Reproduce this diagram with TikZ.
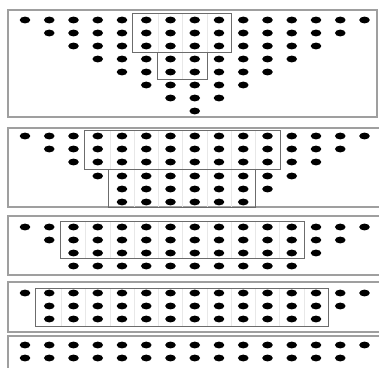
\documentclass[tikz,border=0pt]{standalone}
\usetikzlibrary{calc}

\tikzset{
  panel/.style={draw=gray!75, line width=1.5pt},
  block/.style={draw=gray!85!black, line width=0.9pt},
  stripe/.style={draw=gray!18, line width=0.7pt},
}

% one row of dots: y, first column, last column
\newcommand{\dotrow}[3]{%
  \foreach \i in {#2,...,#3}
    \fill (25+24.25*\i, #1) ellipse (5.3pt and 3.4pt);
}
% grey block round columns #1..#2, from y=#3 to y=#4
\newcommand{\dotblock}[4]{%
  \foreach \i in {#1,...,#2} {
    \ifnum\i<#2
      \draw[stripe] (25+24.25*\i+12.1, #3) -- (25+24.25*\i+12.1, #4);
    \fi
  }
  \draw[block] (25+24.25*#1-13.5, #3) rectangle (25+24.25*#2+12.5, #4);
}

\begin{document}
\begin{tikzpicture}[x=1pt,y=-1pt]
  \useasboundingbox (0,0) rectangle (379,367);
  \clip (0,0) rectangle (379,367);

  % Panel 1: triangle 15,13,...,1
  \draw[panel] (8,10) rectangle (377,117);
  \dotblock{5}{8}{13}{52}
  \dotblock{6}{7}{52}{79}
  \dotrow{20}{0}{14}
  \dotrow{33}{1}{13}
  \dotrow{46}{2}{12}
  \dotrow{59}{3}{11}
  \dotrow{72}{4}{10}
  \dotrow{85}{5}{9}
  \dotrow{98}{6}{8}
  \dotrow{111}{7}{7}

  % Panel 2
  \draw[panel] (8,128) rectangle (390,207);
  \dotblock{3}{10}{130}{169}
  \dotblock{4}{9}{169}{207}
  \dotrow{136}{0}{14}
  \dotrow{149}{1}{13}
  \dotrow{162}{2}{12}
  \dotrow{176}{3}{11}
  \dotrow{189}{4}{10}
  \dotrow{202}{4}{9}

  % Panel 3
  \draw[panel] (8,216) rectangle (390,275);
  \dotblock{2}{11}{221}{258}
  \dotrow{227}{0}{14}
  \dotrow{240}{1}{13}
  \dotrow{253}{2}{12}
  \dotrow{266}{2}{11}

  % Panel 4
  \draw[panel] (8,282) rectangle (390,332);
  \dotblock{1}{12}{288}{326}
  \dotrow{293}{0}{14}
  \dotrow{306}{1}{13}
  \dotrow{319}{1}{12}

  % Panel 5: rectangle 15 + 14
  \draw[panel] (8,336) rectangle (390,380);
  \dotrow{345}{0}{14}
  \dotrow{358}{0}{13}
\end{tikzpicture}
\end{document}
